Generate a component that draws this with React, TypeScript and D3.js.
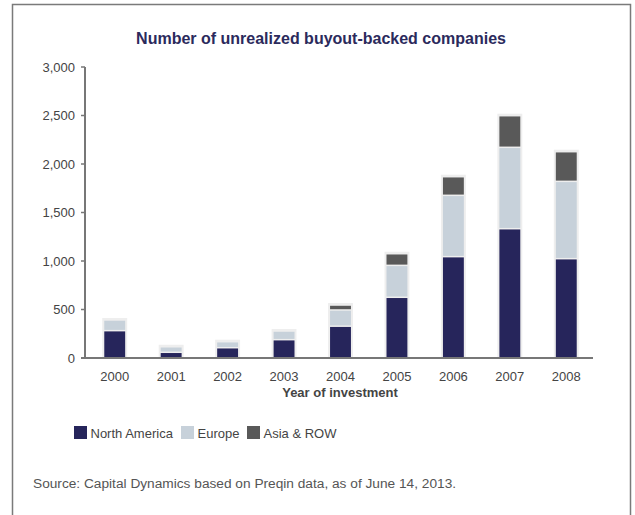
import React from "react";
import * as d3 from "d3";

const years = ["2000", "2001", "2002", "2003", "2004", "2005", "2006", "2007", "2008"];
const northAmerica = [282, 59, 106, 189, 328, 626, 1045, 1333, 1024];
const europe = [110, 57, 62, 89, 167, 329, 632, 839, 797];
const asiaRow = [0, 0, 0, 0, 51, 120, 192, 326, 306];
const yTicks = [0, 500, 1000, 1500, 2000, 2500, 3000];
const seriesNames = ["North America", "Europe", "Asia & ROW"];
const seriesColors = ["#26255b", "#c7d1da", "#595959"];

const W = 635;
const H = 515;
const left = 85;
const right = 593;
const top = 67;
const bottom = 358;
const font = "'Liberation Sans', Arial, sans-serif";

export default function App() {
  const x = d3.scaleBand<string>().domain(years).range([left + 1.5, right + 1.5]).paddingInner(0.63).paddingOuter(0.315);
  const y = d3.scaleLinear().domain([0, 3000]).range([bottom, top]);
  const fmt = d3.format(",");
  const table = years.map((yr, i) => ({ year: yr, na: northAmerica[i], eu: europe[i], asia: asiaRow[i] }));
  const stack = d3.stack<any>().keys(["na", "eu", "asia"])(table);
  const bw = x.bandwidth();

  return (
    <svg width={W} height={H} style={{ position: "absolute", left: 0, top: 0 }}>
      <rect x={0} y={0} width={W} height={H} fill="#fff" />
      <rect x={12.5} y={4.5} width={618} height={520} fill="none" stroke="#7a7a7a" strokeWidth={1.5} />
      <text x={321} y={44} textAnchor="middle" fontFamily={font} fontSize={16} fontWeight="bold" fill="#2b2a5c">
        Number of unrealized buyout-backed companies
      </text>
      {table.map((d, i) => {
        const tot = d.na + d.eu + d.asia;
        return (
          <rect key={"h" + i} x={(x(d.year) as number) - 2} y={y(tot) - 2} width={bw + 4} height={bottom - y(tot) + 2} fill="#eeeeee" />
        );
      })}
      {stack.map((s, si) =>
        s.map((d, i) => {
          const h = y(d[0]) - y(d[1]);
          if (h <= 0) return null;
          return (
            <rect
              key={si + "-" + i}
              x={x(years[i]) as number}
              y={y(d[1]) + 0.75}
              width={bw}
              height={Math.max(0, h - 1.5)}
              fill={seriesColors[si]}
            />
          );
        })
      )}
      <line x1={left} x2={left} y1={top} y2={bottom} stroke="#777" strokeWidth={2} />
      <line x1={left - 4} x2={right} y1={bottom} y2={bottom} stroke="#777" strokeWidth={2} />
      {yTicks.map((t) => (
        <g key={t}>
          <line x1={left - 4} x2={left} y1={y(t)} y2={y(t)} stroke="#777" strokeWidth={1.5} />
          <text x={left - 10} y={y(t) + 4.5} textAnchor="end" fontFamily={font} fontSize={13} fill="#444">
            {fmt(t)}
          </text>
        </g>
      ))}
      {years.map((yr) => (
        <text key={yr} x={(x(yr) as number) + bw / 2} y={381} textAnchor="middle" fontFamily={font} fontSize={13} fill="#444">
          {yr}
        </text>
      ))}
      <text x={340} y={397} textAnchor="middle" fontFamily={font} fontSize={13} fontWeight="bold" fill="#444">
        Year of investment
      </text>
      {seriesNames.map((n, i) => {
        const lx = [74, 181, 247][i];
        return (
          <g key={n}>
            <rect x={lx} y={426} width={13} height={13} fill={seriesColors[i]} />
            <text x={lx + 16.5} y={438} fontFamily={font} fontSize={13} fill="#444">
              {n}
            </text>
          </g>
        );
      })}
      <text x={33} y={488} fontFamily={font} fontSize={13.7} fill="#555">
        Source: Capital Dynamics based on Preqin data, as of June 14, 2013.
      </text>
    </svg>
  );
}
